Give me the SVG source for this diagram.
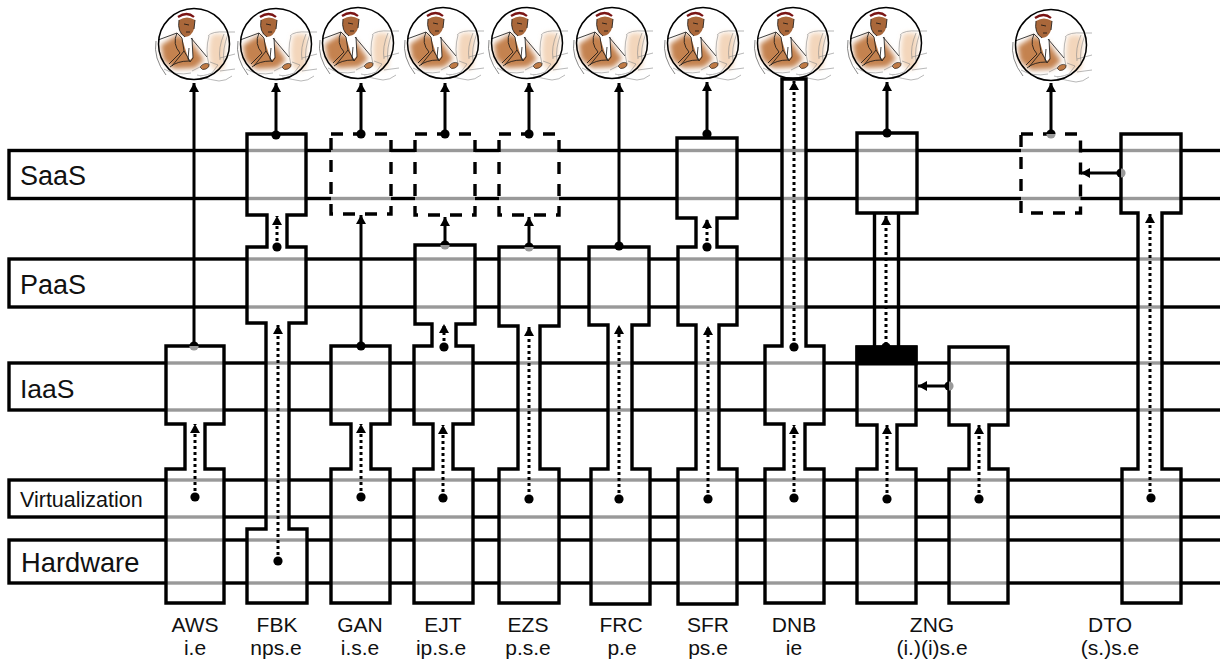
<svg xmlns="http://www.w3.org/2000/svg" width="1220" height="664" viewBox="0 0 1220 664">
<style>
text{font-family:"Liberation Sans",Arial,sans-serif;fill:#111}
.layer{fill:none;stroke:#000;stroke-width:3.4}
.node{fill:#fff;fill-opacity:.6;stroke:#000;stroke-width:3.4;stroke-linejoin:miter}
.dash{stroke-dasharray:12 10}
.tube{fill:none;stroke:#000;stroke-width:3.4}
.solid{fill:none;stroke:#000;stroke-width:3;marker-end:url(#arrow)}
.dotted{fill:none;stroke:#000;stroke-width:3;stroke-dasharray:3 3;marker-end:url(#arrow)}
.dot{fill:#000}
.lab{font-size:21px;text-anchor:middle}
.ln{fill:none;stroke:#111;stroke-width:.8}
.lg{fill:none;stroke:#888;stroke-width:.6}
</style>
<defs>
<marker id="arrow" markerUnits="userSpaceOnUse" markerWidth="10" markerHeight="12" refX="9" refY="6" orient="auto"><path d="M0 1L9 6L0 11z" fill="#000"/></marker>
<filter id="soft" x="-30%" y="-30%" width="160%" height="160%"><feGaussianBlur stdDeviation="2.600"/></filter>
<g id="halfV"><path d="M-4.600 0a4.600 4.600 0 0 1 9.200 0z" fill="#000"/><path d="M-4.600 0a4.600 4.600 0 0 0 9.200 0z" fill="#999"/></g>
<g id="halfH"><path d="M0 -4.600a4.600 4.600 0 0 0 0 9.200z" fill="#000"/><path d="M0 -4.600a4.600 4.600 0 0 1 0 9.200z" fill="#999"/></g>
<g id="person">
<path d="M17 -9Q26 -12 32 -8L30 24Q22 30 17 22Q13 8 17 -9z" fill="#f3d6bb" filter="url(#soft)"/>
<path d="M-33 1L-17 -9L-3 -3L10 16L1 24L-20 25L-31 16z" fill="#c4824f" filter="url(#soft)"/>
<path d="M-13 -9L-2 -9L-1 13L-5 17z" fill="#fff"/>
<path d="M-17 -29Q-7 -35 2 -28L2 -18L-17 -18z" fill="#fff"/>
<path d="M-15 -24Q-17 -12 -9 -7Q-2 -8 0 -15L1 -24Q-7 -29 -15 -24z" fill="#a9673a"/>
<path d="M-16 -27Q-7 -33 0 -27" fill="none" stroke="#7a1414" stroke-width="2.200"/>
<path d="M-15 -24Q-17 -12 -9 -7M1 -24L0 -15" class="ln"/>
<path d="M-10 -20L-5 -19M-8 -12L-4 -12" class="ln"/>
<path d="M-36 -4L-17 -11L-12 -6L-10 7L-4 17M-17 -11Q-22 0 -14 9L-25 20M-2 -6L-1 14L-4 18M-5 4L-6 15L-4 18M-10 7L-22 22M13 13L-3 -6M-5 17Q-17 17 -24 23" class="ln"/>
<path d="M6 23Q10 18 15 20Q16 23 12 25Q8 27 6 23z" fill="#bf7a45" stroke="#111" stroke-width=".6"/>
<path d="M-2 27L8 22M-30 25Q-18 32 -3 29M16 18L24 21L18 29Q8 33 3 31M6 33Q18 36 25 37Q32 37 38 32" class="lg"/>
<path d="M14 -8Q18 -13 32 -12L41 -12M15 -8Q11 6 15 21M30 -10Q24 4 26 16M34 -10Q28 6 30 18M26 14L41 10M26 27L41 25" class="lg"/>
<path d="M-38 -3Q-41 14 -28 31" fill="none" stroke="#555" stroke-width=".7"/>
<circle r="35.500" fill="none" stroke="#000" stroke-width="1.500"/>
</g>
</defs>
<g id="people">
<use href="#person" x="194" y="44"/>
<use href="#person" x="276" y="44"/>
<use href="#person" x="358" y="43"/>
<use href="#person" x="443" y="43"/>
<use href="#person" x="527" y="43"/>
<use href="#person" x="612" y="43"/>
<use href="#person" x="703" y="43"/>
<use href="#person" x="793" y="43"/>
<use href="#person" x="886" y="43"/>
<use href="#person" x="1051" y="45"/>
</g>
<g id="layer-saas"><rect class="layer" x="9" y="150.500" width="1240" height="48"/><text x="20" y="185" font-size="27">SaaS</text></g>
<g id="layer-paas"><rect class="layer" x="9" y="259" width="1240" height="48"/><text x="20" y="294" font-size="27">PaaS</text></g>
<g id="layer-iaas"><rect class="layer" x="9" y="363" width="1240" height="47"/><text x="20" y="398" font-size="26.500">IaaS</text></g>
<g id="layer-virtualization"><rect class="layer" x="9" y="480" width="1240" height="37"/><text x="20" y="507" font-size="21.500">Virtualization</text></g>
<g id="layer-hardware"><rect class="layer" x="9" y="540" width="1240" height="43"/><text x="21" y="572" font-size="27.300">Hardware</text></g>

<g id="node-aws"><path class="node" d="M166 346H224V424H205V469H224V603H166V469H185V424H166Z"/><text class="lab" x="195" y="632">AWS</text><text class="lab" x="195" y="655">i.e</text></g>
<g id="node-fbk"><path class="node" d="M247 134H306V215H287V247H306V323H289V529H307V603H247V529H266V323H247V247H267V215H247Z"/><text class="lab" x="277" y="632">FBK</text><text class="lab" x="276" y="655">nps.e</text></g>
<g id="node-gan"><rect class="node dash" x="331" y="134" width="60" height="80"/><path class="node" d="M331 346H390V424H371V469H390V603H331V469H351V424H331Z"/><text class="lab" x="360" y="632">GAN</text><text class="lab" x="360" y="655">i.s.e</text></g>
<g id="node-ejt"><rect class="node dash" x="415" y="134" width="60" height="81"/><path class="node" d="M415 245H475V324H456V346H473V424H453V469H473V603H414V469H433V424H414V346H432V324H415Z"/><text class="lab" x="443" y="632">EJT</text><text class="lab" x="441" y="655">ip.s.e</text></g>
<g id="node-ezs"><rect class="node dash" x="499" y="134" width="60" height="81"/><path class="node" d="M499 247H559V326H540V469H559V603H499V469H518V326H499Z"/><text class="lab" x="528" y="632">EZS</text><text class="lab" x="528" y="655">p.s.e</text></g>
<g id="node-frc"><path class="node" d="M589 247H649V325H632V469H650V604H591V469H608V325H589Z"/><text class="lab" x="621" y="632">FRC</text><text class="lab" x="622" y="655">p.e</text></g>
<g id="node-sfr"><path class="node" d="M677 138H737V218H717V247H737V325H719V469H737V604H678V469H696V325H678V247H696V218H677Z"/><text class="lab" x="708" y="632">SFR</text><text class="lab" x="708" y="655">ps.e</text></g>
<g id="node-dnb"><path class="node" d="M782 79H806V346H824V424H805V469H824V603H765V469H784V424H765V346H782Z"/><text class="lab" x="794" y="632">DNB</text><text class="lab" x="794" y="655">ie</text></g>
<g id="node-zng-top"><path class="node" d="M857 133H917V213H857Z"/><path class="tube" d="M874.500 213V347M898.500 213V347"/></g>
<g id="node-zng"><path class="node" d="M857 347H916V425H897V469H916V603H857V469H877V425H857Z"/><rect x="857" y="347" width="59" height="17" fill="#000" stroke="#000" stroke-width="3"/><text class="lab" x="932" y="632">ZNG</text><text class="lab" x="932" y="655">(i.)(i)s.e</text></g>
<g id="node-zng-2"><path class="node" d="M949 347H1008V425H989V469H1008V603H949V469H969V425H949Z"/></g>
<g id="node-dto-dashed"><rect class="node dash" x="1021" y="134" width="59.500" height="79"/></g>
<g id="node-dto"><path class="node" d="M1121 134H1181V213H1162V469H1181V603H1122V469H1138V213H1121Z"/><text class="lab" x="1110" y="632">DTO</text><text class="lab" x="1110" y="655">(s.)s.e</text></g>

<g id="connectors">
<path class="solid" d="M194 346V83"/><use href="#halfV" x="194" y="346"/>
<path class="dotted" d="M195 497V424"/><circle class="dot" cx="195" cy="497" r="4.600"/>
<path class="solid" d="M276 134V83"/><circle class="dot" cx="276" cy="135" r="4.600"/>
<path class="dotted" d="M277 247V216"/><circle class="dot" cx="277" cy="247" r="4.600"/>
<path class="dotted" d="M278 561V325"/><circle class="dot" cx="278" cy="561" r="4.600"/>
<path class="solid" d="M361 134V83"/><circle class="dot" cx="361" cy="134" r="4.600"/>
<path class="solid" d="M361 346V215"/><circle class="dot" cx="361" cy="346" r="4.600"/>
<path class="dotted" d="M361 497V424"/><circle class="dot" cx="361" cy="497" r="4.600"/>
<path class="solid" d="M445 134V83"/><circle class="dot" cx="445" cy="134" r="4.600"/>
<path class="solid" d="M445 245V217"/><use href="#halfV" x="445" y="245"/>
<path class="dotted" d="M444 347V324"/><circle class="dot" cx="444" cy="347" r="4.600"/>
<path class="dotted" d="M443 498V425"/><circle class="dot" cx="443" cy="498" r="4.600"/>
<path class="solid" d="M529 134V83"/><circle class="dot" cx="529" cy="134" r="4.600"/>
<path class="solid" d="M529 247V217"/><use href="#halfV" x="529" y="247"/>
<path class="dotted" d="M529 498V327"/><circle class="dot" cx="529" cy="499" r="4.600"/>
<path class="solid" d="M619 246V83"/><circle class="dot" cx="619" cy="246" r="4.600"/>
<path class="dotted" d="M619 499V325"/><circle class="dot" cx="619" cy="499" r="4.600"/>
<path class="solid" d="M707 134V82"/><circle class="dot" cx="707" cy="134" r="4.600"/>
<path class="dotted" d="M707 247V219"/><circle class="dot" cx="707" cy="247" r="4.600"/>
<path class="dotted" d="M708 499V326"/><circle class="dot" cx="708" cy="499" r="4.600"/>
<path class="dotted" d="M794 347V81"/><circle class="dot" cx="794" cy="347" r="4.600"/>
<path class="dotted" d="M794 498V425"/><circle class="dot" cx="794" cy="498" r="4.600"/>
<path class="solid" d="M887 133V82"/><circle class="dot" cx="887" cy="133" r="4.600"/>
<path class="dotted" d="M886 345V216"/><circle class="dot" cx="886" cy="347" r="4.600"/>
<path class="dotted" d="M887 499V425"/><circle class="dot" cx="887" cy="499" r="4.600"/>
<path class="solid" d="M949 386H918"/><use href="#halfH" x="949" y="386"/>
<path class="dotted" d="M979 499V425"/><circle class="dot" cx="979" cy="499" r="4.600"/>
<path class="solid" d="M1051 133V83"/><use href="#halfV" x="1051" y="134"/>
<path class="solid" d="M1121 173H1081"/><use href="#halfH" x="1121" y="173"/>
<path class="dotted" d="M1150 498V214"/><circle class="dot" cx="1151" cy="498" r="4.600"/>
</g>
</svg>
